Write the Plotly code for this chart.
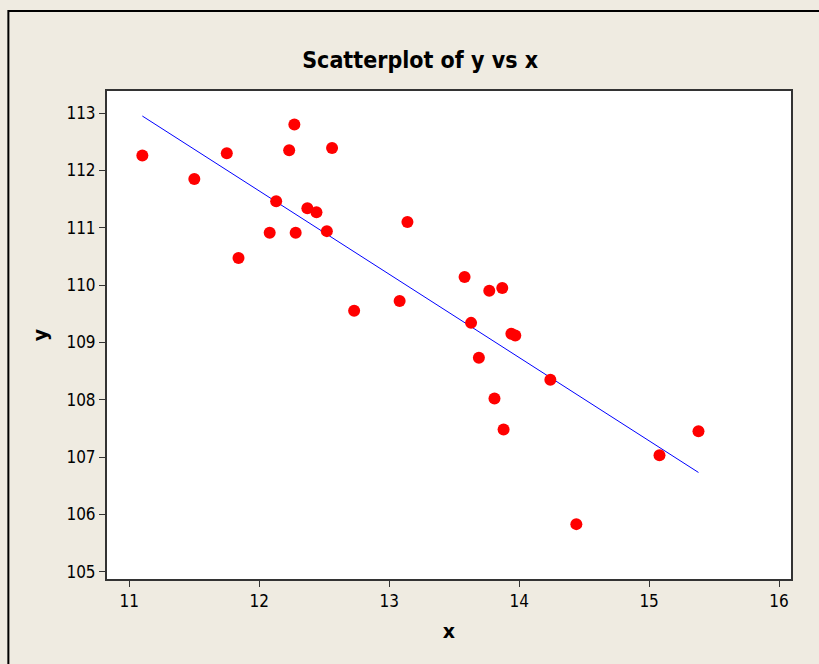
import numpy as np
import plotly.graph_objects as go

x_vals = [11.10, 11.50, 11.75, 11.84, 12.08, 12.13, 12.23, 12.27, 12.28, 12.37,
          12.44, 12.52, 12.56, 12.73, 13.08, 13.14, 13.58, 13.63, 13.69, 13.77,
          13.81, 13.87, 13.88, 13.94, 13.97, 14.24, 14.44, 15.08, 15.38]
y_vals = [112.26, 111.85, 112.30, 110.47, 110.91, 111.46, 112.35, 112.80, 110.91, 111.34,
          111.27, 110.94, 112.39, 109.55, 109.72, 111.10, 110.14, 109.34, 108.73, 109.90,
          108.02, 109.95, 107.48, 109.15, 109.12, 108.35, 105.83, 107.03, 107.45]
x_ticks = [11, 12, 13, 14, 15, 16]
y_ticks = [105, 106, 107, 108, 109, 110, 111, 112, 113]

slope, intercept = np.polyfit(x_vals, y_vals, 1)
fit_x = [min(x_vals), max(x_vals)]
fit_y = [intercept + slope * v for v in fit_x]

fig = go.Figure()
fig.add_trace(go.Scatter(x=fit_x, y=fit_y, mode="lines",
                         line=dict(color="#0000ff", width=1), showlegend=False))
fig.add_trace(go.Scatter(x=x_vals, y=y_vals, mode="markers",
                         marker=dict(color="#ff0000", size=12, line=dict(width=0)),
                         showlegend=False))

font_fam = "DejaVu Sans Condensed, Arial, sans-serif"
bg = "#efebe1"
fig.update_layout(
    width=819, height=664,
    paper_bgcolor=bg, plot_bgcolor="white",
    margin=dict(l=107, r=28, t=91, b=85),
    font=dict(family=font_fam, size=17, color="black"),
    title=dict(text="<b>Scatterplot of y vs x</b>", x=0.513, xanchor="center",
               y=0.91, yanchor="middle", font=dict(size=23, family=font_fam)),
    xaxis=dict(range=[10.828, 16.092], tickvals=x_ticks, ticks="outside", ticklen=6,
               tickcolor="#333", showgrid=False, zeroline=False, showline=True,
               linecolor="#333", linewidth=2, mirror=True,
               title=dict(text="<b>x</b>", font=dict(size=19, family="DejaVu Sans"), standoff=14)),
    yaxis=dict(range=[104.873, 113.384], tickvals=y_ticks, ticks="outside", ticklen=6,
               tickcolor="#333", showgrid=False, zeroline=False, showline=True,
               linecolor="#333", linewidth=2, mirror=True,
               title=dict(text="<b>y</b>", font=dict(size=19, family="DejaVu Sans"), standoff=14)),
    shapes=[dict(type="rect", xref="paper", yref="paper",
                 x0=-0.1442, x1=1.2, y0=-0.4, y1=1.1639,
                 line=dict(color="black", width=2), fillcolor="rgba(0,0,0,0)", layer="below")],
)
fig.write_html("out.html", config={"displayModeBar": False},
               post_script="document.body.style.margin='0';document.body.style.overflow='hidden';")
